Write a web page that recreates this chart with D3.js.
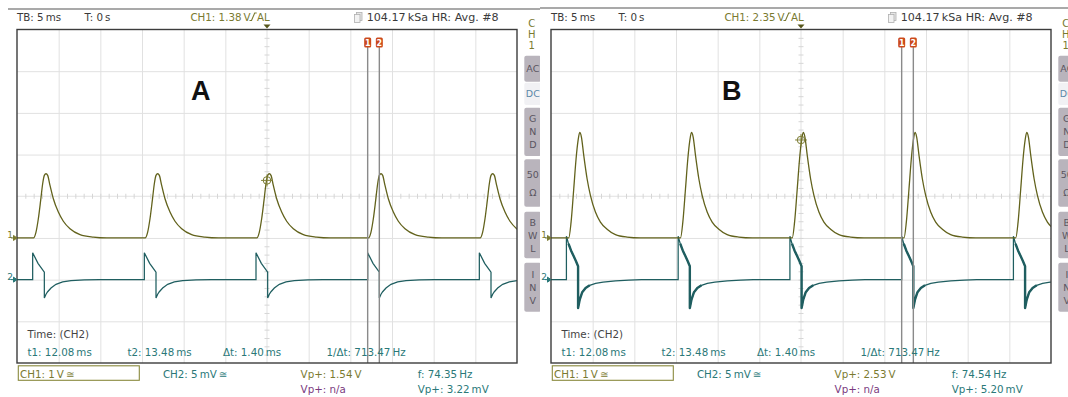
<!DOCTYPE html>
<html>
<head>
<meta charset="utf-8">
<script src="https://cdn.jsdelivr.net/npm/d3@7"></script>
<style>
  html, body { margin: 0; padding: 0; background: #fff; }
  svg { display: block; font-family: "DejaVu Sans", sans-serif; }
</style>
</head>
<body>
<svg id="chart" width="1068" height="397"></svg>
<script>
// ---- values ----
const panelNames = ['A', 'B'];
const triggerLevels = [1.38, 2.35];          // CH1 trigger level, V
const ch1PeakText = ['1.54', '2.53'];        // Vp+ CH1, V
const ch2PeakText = ['3.22', '5.20'];        // Vp+ CH2, mV
const freqText = ['74.35', '74.54'];         // Hz
const cursorTimes = [12.08, 13.48];          // ms
const cursorText = ['12.08', '13.48', '1.40', '713.47'];

// CH2 rising steps, ms from trigger
const pulseStartsA = [-28.12, -14.72, -1.32, 12.08, 25.48];
const pulseStartsB = [-28.15, -14.74, -1.33, 12.08, 25.49];

// one pulse: [ms after the CH2 step, value]; CH1 in V, CH2 in mV
const ch1ShapeA = [[0, 0], [0.1, 0], [0.4, 0.14], [0.68, 0.46], [0.96, 0.9], [1.2, 1.3], [1.4, 1.5],
  [1.6, 1.54], [1.8, 1.5], [2.08, 1.26], [2.48, 0.94], [3.08, 0.62], [3.68, 0.4], [4.48, 0.22],
  [5.68, 0.08], [7.28, 0.02], [8.9, 0]];
const ch2ShapeA = [[0, 0], [0, 3.22], [0.64, 1.95], [1.4, 0.9], [1.4, -2.2], [1.6, -1.75], [1.8, -1.45],
  [2.2, -1.0], [2.8, -0.56], [3.6, -0.28], [4.6, -0.12], [6.2, -0.04], [8, 0]];
const ch1ShapeB = [[0, 0], [0.28, 0], [0.56, 0.38], [0.88, 1.18], [1.16, 1.9], [1.4, 2.34], [1.6, 2.53],
  [1.8, 2.42], [2.08, 1.98], [2.48, 1.42], [2.88, 1.02], [3.48, 0.62], [4.08, 0.38], [4.88, 0.21],
  [5.88, 0.08], [7.28, 0.02], [8.9, 0]];
const ch2ShapeB = [[0, 0], [0, 5.2], [0.25, 4.3], [0.55, 3.5], [0.85, 2.85], [1.15, 2.2], [1.4, 1.6],
  [1.4, -3.4], [1.6, -2.4], [1.9, -1.5], [2.3, -1.0], [2.8, -0.68], [3.5, -0.45], [4.4, -0.3],
  [5.9, -0.15], [7.5, -0.05], [9, 0]];

const pulseStarts = [pulseStartsA, pulseStartsB];
const ch1Shapes = [ch1ShapeA, ch1ShapeB];
const ch2Shapes = [ch2ShapeA, ch2ShapeB];

const sideButtons = [['AC'], ['DC'], ['G', 'N', 'D'], ['50', 'Ω'], ['B', 'W', 'L'], ['I', 'N', 'V']];

// ---- layout / colours ----
const PLOT = { left: 17, top: 29.5, width: 500, height: 333.5 };
const PANEL_SHIFT = [0, 534];
const LETTER_X = [191, 188];
const COL = {
  ch1: '#62621c', ch1Text: '#7a7a30', ch2: '#1f5e60', ch2Text: '#2a7878',
  purple: '#7a3a80', grid: '#e1e1e1', frame: '#3c3c3c', text: '#3a3a3a',
  cursor: '#8a8a8a', marker: '#cc4a1c', btn: '#b9b4bc', btnText: '#5a5560'
};
const SP = '\u2009';

const svg = d3.select('#chart');

function pulseTrain(starts, shape) {
  const pts = [[-30, 0]];
  starts.forEach(s => shape.forEach(([dt, v]) => pts.push([s + dt, v])));
  pts.push([30, 0]);
  return pts;
}

function drawPanel(i) {
  const g = svg.append('g').attr('transform', `translate(${PANEL_SHIFT[i]},0)`);
  const { left, top, width, height } = PLOT;
  const right = left + width, bottom = top + height;

  // white backing so panel B sits over A's edge
  if (i === 1) g.append('rect').attr('x', 6).attr('y', 0).attr('width', 540).attr('height', 397).attr('fill', '#fff');

  const x = d3.scaleLinear().domain([-30, 30]).range([left, right]);
  const div = d3.scaleLinear().domain([-4, 4]).range([bottom, top]);
  const yV = d3.scaleLinear().domain([-3, 5]).range([bottom, top]);    // CH1, 1 V/div, ground 1 div below centre
  const ymV = d3.scaleLinear().domain([-10, 30]).range([bottom, top]); // CH2, 5 mV/div, ground 2 div below centre

  // top rule
  g.append('line').attr('x1', i === 0 ? 8 : 6).attr('x2', 540)
    .attr('y1', i === 0 ? 9 : 8).attr('y2', i === 0 ? 9 : 8)
    .attr('stroke', '#8c8c8c').attr('stroke-width', 1.5);

  // grid
  const tGrid = d3.range(-25, 30, 5).filter(d => d !== 0);
  g.append('g').attr('transform', `translate(0,${bottom})`)
    .call(d3.axisBottom(x).tickValues(tGrid).tickSize(-height).tickFormat(''))
    .call(a => a.select('.domain').remove())
    .call(a => a.selectAll('line').attr('stroke', COL.grid));
  g.append('g').attr('transform', `translate(${left},0)`)
    .call(d3.axisLeft(div).tickValues([-3, -2, -1, 1, 2, 3]).tickSize(-width).tickFormat(''))
    .call(a => a.select('.domain').remove())
    .call(a => a.selectAll('line').attr('stroke', COL.grid));

  // centre cross with minor ticks
  g.append('line').attr('x1', x(0)).attr('x2', x(0)).attr('y1', top).attr('y2', bottom).attr('stroke', COL.grid);
  g.append('line').attr('x1', left).attr('x2', right).attr('y1', div(0)).attr('y2', div(0)).attr('stroke', COL.grid);
  g.append('g').attr('transform', `translate(0,${div(0) - 2.5})`)
    .call(d3.axisBottom(x).tickValues(d3.range(-29, 30, 1)).tickSize(5).tickFormat(''))
    .call(a => a.select('.domain').remove())
    .call(a => a.selectAll('line').attr('stroke', '#d6d6d6'));
  g.append('g').attr('transform', `translate(${x(0) - 2.5},0)`)
    .call(d3.axisRight(div).tickValues(d3.range(-3.8, 4, 0.2)).tickSize(5).tickFormat(''))
    .call(a => a.select('.domain').remove())
    .call(a => a.selectAll('line').attr('stroke', '#d6d6d6'));

  // big panel letter
  g.append('text').attr('x', LETTER_X[i]).attr('y', 100)
    .style('font-family', '"Liberation Sans", Arial, sans-serif').style('font-weight', 'bold')
    .style('font-size', '27px').attr('fill', '#111').text(panelNames[i]);

  // traces
  const clipId = `clip-${i}`;
  g.append('clipPath').attr('id', clipId).append('rect')
    .attr('x', left).attr('y', top).attr('width', width).attr('height', height);
  const line1 = d3.line().x(d => x(d[0])).y(d => yV(d[1])).curve(d3.curveMonotoneX);
  const line2 = d3.line().x(d => x(d[0])).y(d => ymV(d[1])).curve(d3.curveLinear);
  g.append('path').datum(pulseTrain(pulseStarts[i], ch2Shapes[i]))
    .attr('d', line2).attr('fill', 'none').attr('stroke', COL.ch2).attr('stroke-width', 1.25)
    .attr('clip-path', `url(#${clipId})`);
  if (i === 1) {
    // B's CH2 transients are smeared by the averaging: draw them heavier
    const transient = ch2Shapes[i].filter(d => d[0] > 0 && d[0] <= 3);
    pulseStarts[i].forEach(s => {
      g.append('path').datum(transient.map(([dt, v]) => [s + dt, v]))
        .attr('d', line2).attr('fill', 'none').attr('stroke', COL.ch2).attr('stroke-width', 2.4)
        .attr('stroke-linejoin', 'round').attr('clip-path', `url(#${clipId})`);
    });
  }
  g.append('path').datum(pulseTrain(pulseStarts[i], ch1Shapes[i]))
    .attr('d', line1).attr('fill', 'none').attr('stroke', COL.ch1).attr('stroke-width', 1.3)
    .attr('clip-path', `url(#${clipId})`);

  // trigger crosshair on CH1
  const tx = x(0), ty = yV(triggerLevels[i]);
  g.append('circle').attr('cx', tx).attr('cy', ty).attr('r', 3.8)
    .attr('fill', 'none').attr('stroke', COL.ch1Text).attr('stroke-width', 1);
  g.append('path').attr('d', `M${tx - 6},${ty}H${tx + 6}M${tx},${ty - 6}V${ty + 6}`)
    .attr('stroke', COL.ch1Text).attr('stroke-width', 0.9);

  // cursors
  cursorTimes.forEach((t, k) => {
    g.append('line').attr('x1', x(t)).attr('x2', x(t)).attr('y1', 47).attr('y2', bottom)
      .attr('stroke', COL.cursor).attr('stroke-width', 1.4);
    g.append('rect').attr('x', x(t) - 3.5).attr('y', 37.5).attr('width', 7).attr('height', 10)
      .attr('rx', 1.5).attr('fill', COL.marker);
    g.append('text').attr('x', x(t)).attr('y', 45.5).attr('text-anchor', 'middle')
      .style('font-size', '8px').style('font-weight', 'bold').attr('fill', '#fff').text(k + 1);
  });

  // frame
  g.append('rect').attr('x', left).attr('y', top).attr('width', width).attr('height', height)
    .attr('fill', 'none').attr('stroke', COL.frame).attr('stroke-width', 1.4);

  // trigger position marker at top
  g.append('path').attr('d', `M${tx - 3.5},${top - 5}h7l-3.5,4z`).attr('fill', '#55551a');

  // ground markers
  [[yV(0), '1', COL.ch1Text], [ymV(0), '2', COL.ch2Text]].forEach(([gy, lab, c]) => {
    g.append('text').attr('x', left - 7).attr('y', gy).attr('text-anchor', 'middle')
      .style('font-size', '9px').attr('fill', c).text(lab);
    g.append('path').attr('d', `M${left - 6},${gy}H${left - 1}M${left - 3.5},${gy - 2.5}L${left},${gy}L${left - 3.5},${gy + 2.5}z`)
      .attr('stroke', c).attr('fill', c).attr('stroke-width', 1);
  });

  // header texts
  const hdr = g.append('g').style('font-size', '10.3px');
  hdr.append('text').attr('x', 17).attr('y', 21).attr('fill', COL.text).text(`TB: 5${SP}ms`);
  hdr.append('text').attr('x', 84.5).attr('y', 21).attr('fill', COL.text).text(`T: 0${SP}s`);
  hdr.append('text').attr('x', 190.4).attr('y', 21).attr('fill', COL.ch1Text)
    .text(`CH1: ${triggerLevels[i].toFixed(2)}${SP}V`);
  hdr.append('path').attr('d', 'M249.5,20.5h2l3.2,-7.5h2').attr('fill', 'none')
    .attr('stroke', COL.ch1Text).attr('stroke-width', 1.1);
  hdr.append('text').attr('x', 257).attr('y', 21).attr('fill', COL.ch1Text).text('AL');
  g.append('rect').attr('x', 356.5).attr('y', 12.5).attr('width', 5.5).attr('height', 8)
    .attr('fill', '#e6e6e6').attr('stroke', '#b0b0b0').attr('stroke-width', 0.8);
  g.append('rect').attr('x', 354.5).attr('y', 14.5).attr('width', 5.5).attr('height', 8)
    .attr('fill', '#f2f2f2').attr('stroke', '#b0b0b0').attr('stroke-width', 0.8);
  hdr.append('text').attr('x', 366.7).attr('y', 21).attr('fill', COL.text)
    .attr('textLength', 132).attr('lengthAdjust', 'spacingAndGlyphs')
    .text(`104.17${SP}kSa HR: Avg. #8`);

  // side column "CH1" + buttons
  const bx = 524.3, bw = 17, cx = bx + bw / 2;
  ['C', 'H', '1'].forEach((ch, k) => {
    g.append('text').attr('x', cx - 1).attr('y', 26.5 + k * 11).attr('text-anchor', 'middle')
      .style('font-size', '10px').attr('fill', COL.ch1Text).text(ch);
  });
  const btnBoxes = [[55.7, 81.7], [82.7, 105], [107.7, 156], [159.3, 206.7], [211.7, 258.3], [262.7, 311.7]];
  sideButtons.forEach((labels, k) => {
    const [y0, y1] = btnBoxes[k];
    const isDC = labels[0] === 'DC';
    g.append('rect').attr('x', bx).attr('y', y0).attr('width', bw).attr('height', y1 - y0)
      .attr('rx', 2).attr('fill', isDC ? '#f1f1f4' : COL.btn);
    const n = labels.length, step = labels[0] === '50' ? 18 : 13;
    const mid = (y0 + y1) / 2;
    labels.forEach((lab, j) => {
      g.append('text').attr('x', cx).attr('y', mid + (j - (n - 1) / 2) * step + 3.5)
        .attr('text-anchor', 'middle').style('font-size', '9.5px')
        .attr('fill', isDC ? '#5a88a8' : COL.btnText).text(lab);
    });
  });

  // readouts inside the frame
  const rd = g.append('g').style('font-size', '10.3px');
  rd.append('text').attr('x', 27.5).attr('y', 338).attr('fill', '#444').text('Time: (CH2)');
  [[27.5, `t1: ${cursorText[0]}${SP}ms`], [127.4, `t2: ${cursorText[1]}${SP}ms`],
   [223, `Δt: ${cursorText[2]}${SP}ms`], [326.5, `1/Δt: ${cursorText[3]}${SP}Hz`]].forEach(([tx2, s]) => {
    rd.append('text').attr('x', tx2).attr('y', 356).attr('fill', COL.ch2Text).text(s);
  });

  // channel settings row
  rd.append('rect').attr('x', 18.3).attr('y', 365.8).attr('width', 121).attr('height', 14.5)
    .attr('fill', 'none').attr('stroke', '#8a8a3e').attr('stroke-width', 1.1);
  rd.append('text').attr('x', 20).attr('y', 377.5).attr('fill', COL.ch1Text).text(`CH1: 1${SP}V${SP}≅`);
  rd.append('text').attr('x', 162.9).attr('y', 377.5).attr('fill', COL.ch2Text).text(`CH2: 5${SP}mV${SP}≅`);
  rd.append('text').attr('x', 300.6).attr('y', 377.5).attr('fill', COL.ch1Text).text(`Vp+: ${ch1PeakText[i]}${SP}V`);
  rd.append('text').attr('x', 300.6).attr('y', 393).attr('fill', COL.purple).text('Vp+: n/a');
  rd.append('text').attr('x', 417.7).attr('y', 377.5).attr('fill', COL.ch2Text).text(`f: ${freqText[i]}${SP}Hz`);
  rd.append('text').attr('x', 417.7).attr('y', 393).attr('fill', COL.ch2Text).text(`Vp+: ${ch2PeakText[i]}${SP}mV`);
}

panelNames.forEach((_, i) => drawPanel(i));
</script>
</body>
</html>
